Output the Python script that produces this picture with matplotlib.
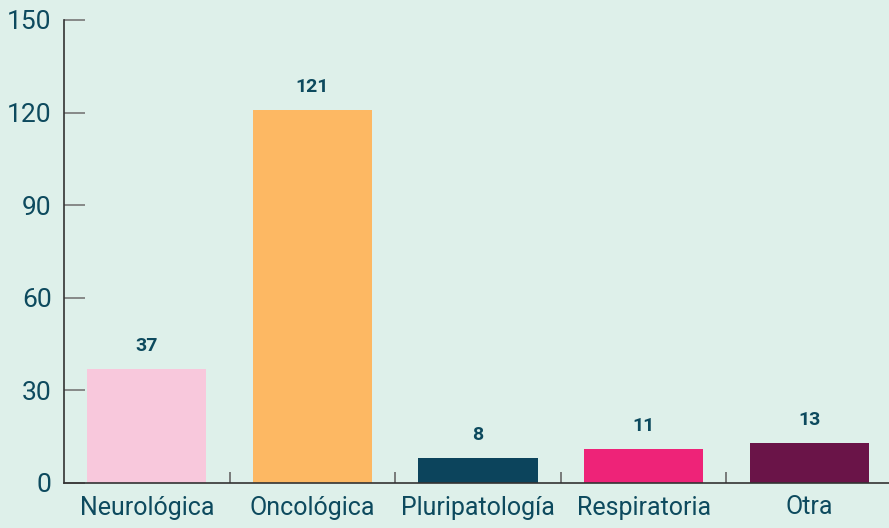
import matplotlib.pyplot as plt
from matplotlib import font_manager

categorias = ['Neurológica', 'Oncológica', 'Pluripatología', 'Respiratoria', 'Otra']
valores = [37, 121, 8, 11, 13]
colores = ['#f8c8dc', '#fdb863', '#0c445c', '#ee2378', '#6a1448']
yticks = [0, 30, 60, 90, 120, 150]

fondo = '#def0ea'
texto = '#0d4a5e'

familias = [f.name for f in font_manager.fontManager.ttflist]
if 'Liberation Sans Narrow' in familias:
    plt.rcParams['font.family'] = ['Liberation Sans Narrow', 'DejaVu Sans']
else:
    plt.rcParams['font.family'] = ['Roboto', 'DejaVu Sans']

fig = plt.figure(figsize=(8.89, 5.28), dpi=100, facecolor=fondo)
ax = fig.add_axes([64 / 889, 45 / 528, 828 / 889, 463 / 528])
ax.set_facecolor(fondo)

x = list(range(len(categorias)))
barras = ax.bar(x, valores, width=0.72, color=colores)
for b, v in zip(barras, valores):
    ax.annotate(str(v), (b.get_x() + b.get_width() / 2, v), xytext=(0, 10),
                textcoords='offset points', ha='center', va='bottom',
                fontsize=14, fontweight='bold', color=texto)

ax.set_xlim(-0.5, len(categorias) - 0.5)
ax.set_ylim(0, 150)
ax.set_yticks(yticks)
ax.set_xticks(x)
ax.set_xticklabels(categorias)
ax.set_xticks([i + 0.5 for i in x], minor=True)

ax.tick_params(axis='y', direction='in', length=15, width=1.2, color='#777777',
               labelsize=19, labelcolor=texto, pad=9)
ax.tick_params(axis='x', which='major', length=0, labelsize=18, labelcolor=texto, pad=9)
ax.tick_params(axis='x', which='minor', direction='in', length=8, width=1.2, color='#666666')

for s in ['top', 'right']:
    ax.spines[s].set_visible(False)
for s in ['left', 'bottom']:
    ax.spines[s].set_color('#333333')
    ax.spines[s].set_linewidth(1.2)

fig.savefig('out.png', dpi=100, facecolor=fondo)
